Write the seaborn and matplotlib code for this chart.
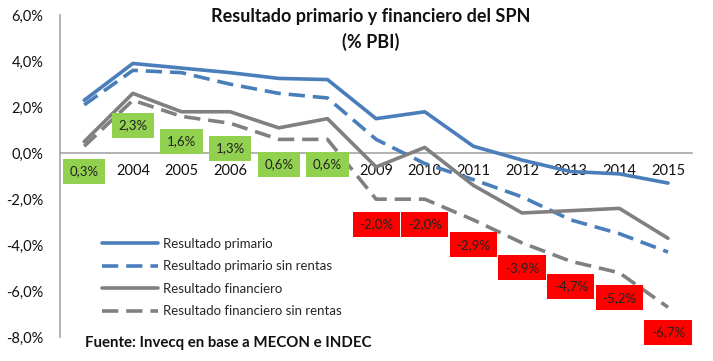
import pandas as pd
import matplotlib
matplotlib.use('Agg')
import matplotlib.pyplot as plt
import seaborn as sns

# data (% of GDP)
years = ['2003', '2004', '2005', '2006', '2007', '2008', '2009',
         '2010', '2011', '2012', '2013', '2014', '2015']
primario = [2.3, 3.9, 3.7, 3.5, 3.25, 3.2, 1.5, 1.8, 0.3, -0.3, -0.8, -0.9, -1.3]
primario_sr = [2.1, 3.6, 3.5, 3.0, 2.6, 2.4, 0.6, -0.45, -1.15, -1.9, -2.9, -3.5, -4.3]
financiero = [0.5, 2.6, 1.8, 1.8, 1.1, 1.5, -0.6, 0.25, -1.4, -2.6, -2.5, -2.4, -3.7]
financiero_sr = [0.3, 2.3, 1.6, 1.3, 0.6, 0.6, -2.0, -2.0, -2.9, -3.9, -4.7, -5.2, -6.7]

series = [
    ('Resultado primario', primario, '#4A7EBB', False),
    ('Resultado primario sin rentas', primario_sr, '#4A7EBB', True),
    ('Resultado financiero', financiero, '#808080', False),
    ('Resultado financiero sin rentas', financiero_sr, '#808080', True),
]

sns.set_style('white')
plt.rcParams['font.family'] = ['Lato', 'DejaVu Sans']

fig = plt.figure(figsize=(7.13, 3.61), dpi=100)
ax = fig.add_axes([0.084, 0.066, 0.887, 0.892])

idx = list(range(len(years)))
for name, vals, col, dashed in series:
    sns.lineplot(x=idx, y=vals, color=col, linewidth=2.6, label=name, ax=ax)
    line = ax.lines[-1]
    line.set_solid_capstyle('round')
    line.set_solid_joinstyle('round')
    if dashed:
        line.set_dashes((4.5, 2.2))

# data labels for the financial result without rents
for i, v in enumerate(financiero_sr):
    box = '#92D050' if v >= 0 else '#FF0000'
    ax.annotate(f'{v:.1f}%'.replace('.', ','), (i, v), xytext=(0, -18),
                textcoords='offset points', ha='center', va='center',
                fontsize=9.5, color='#222222',
                bbox=dict(boxstyle='square,pad=0.5', fc=box, ec='none'))

ax.set_xlim(-0.5, len(years) - 0.5)
ax.set_ylim(-8, 6)
ax.set_xticks(idx)
ax.set_xticklabels(years)
ax.set_yticks([6, 4, 2, 0, -2, -4, -6, -8])
ax.set_yticklabels([f'{t:.1f}%'.replace('.', ',') for t in [6, 4, 2, 0, -2, -4, -6, -8]])
ax.tick_params(axis='x', length=0, pad=8, labelsize=10.5, colors='#111111')
ax.tick_params(axis='y', length=0, pad=12, labelsize=10.5, colors='#111111')

for s in ['top', 'right']:
    ax.spines[s].set_visible(False)
ax.spines['bottom'].set_position(('data', 0))
ax.spines['bottom'].set_color('#A6A6A6')
ax.spines['left'].set_color('#A6A6A6')
ax.spines['bottom'].set_linewidth(1.2)
ax.spines['left'].set_linewidth(1.2)
ax.spines['bottom'].set_zorder(1)

ax.legend(loc='lower left', bbox_to_anchor=(0.048, 0.025), frameon=False,
          fontsize=9.5, handlelength=4.2, labelspacing=0.8, handletextpad=0.4)

fig.text(0.52, 0.978, 'Resultado primario y financiero del SPN', ha='center',
         va='top', fontsize=13, fontweight='bold', color='#111111')
fig.text(0.52, 0.908, '(% PBI)', ha='center', va='top', fontsize=13,
         fontweight='bold', color='#111111')
fig.text(0.119, 0.05, 'Fuente: Invecq en base a MECON e INDEC', ha='left',
         va='center', fontsize=10.8, fontweight='bold', color='#111111')

fig.savefig('out.png', dpi=100)
